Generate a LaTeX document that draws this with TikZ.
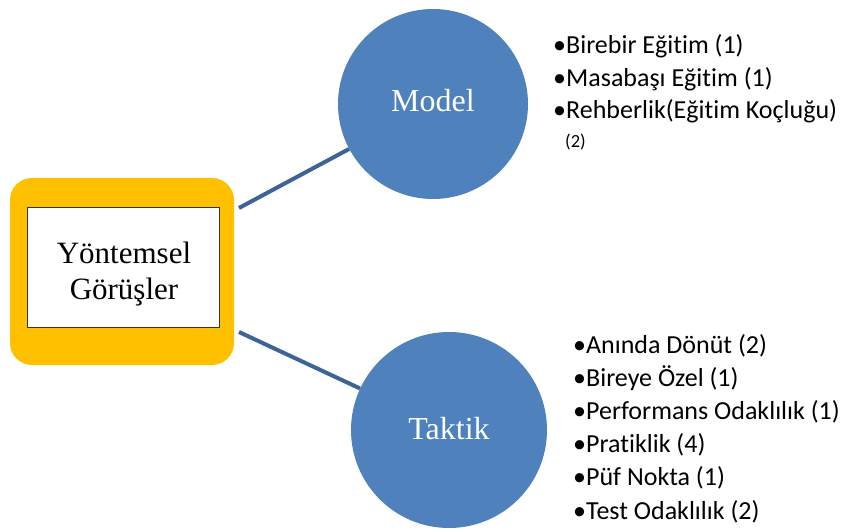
\documentclass[tikz,border=0pt]{standalone}
\usepackage{fontspec}
\setmainfont{Liberation Serif}
\newfontfamily\listfont[Ligatures=NoCommon]{Carlito}
\definecolor{goldbox}{HTML}{FFC000}
\definecolor{circblue}{HTML}{4F81BD}
\definecolor{linkblue}{HTML}{3C6496}
\begin{document}
\begin{tikzpicture}[x=1pt,y=-1pt,
  circ/.style={circle,fill=circblue,draw=none,inner sep=0pt},
  circtext/.style={anchor=base,inner sep=0pt,text=white,font=\fontsize{32}{36}\selectfont},
  boxtext/.style={anchor=base,inner sep=0pt,font=\fontsize{31}{36}\selectfont},
  link/.style={draw=linkblue,line width=4pt},
  item/.style={anchor=base west,inner sep=0pt,font=\listfont\fontsize{26}{30}\selectfont},
  smallitem/.style={anchor=base west,inner sep=0pt,font=\listfont\fontsize{18.5}{22}\selectfont}]
\useasboundingbox (0,0) rectangle (844,532);
\node[fill=goldbox,rounded corners=22pt,minimum width=224pt,minimum height=187pt,inner sep=0pt] (outer) at (122,271.5) {};
\node[fill=white,draw=black!80,line width=0.8pt,minimum width=192pt,minimum height=120pt,inner sep=0pt] (inner) at (123,267.5) {};
\node[boxtext] (yt1) at (124,263) {Yöntemsel};
\node[boxtext] (yt2) at (124,299) {Görüşler};
\node[circ,minimum size=190pt] (model) at (433,104) {};
\node[circ,minimum size=196pt] (taktik) at (449,430) {};
\node[circtext] (modeltxt) at (433,112) {Model};
\node[circtext] (taktiktxt) at (449,439) {Taktik};
\coordinate (a1) at (239,208);
\coordinate (b1) at (239,332);
\draw[link] (a1) -- (model);
\draw[link] (b1) -- (taktik);
\node[item] (m1) at (553,54) {•Birebir Eğitim (1)};
\node[item] (m2) at (553,87) {•Masabaşı Eğitim (1)};
\node[item] (m3) at (553,119) {•Rehberlik(Eğitim Koçluğu)};
\node[smallitem] (m4) at (565,148) {(2)};
\node[item] (t1) at (573,353) {•Anında Dönüt (2)};
\node[item] (t2) at (573,386) {•Bireye Özel (1)};
\node[item] (t3) at (573,419) {•Performans Odaklılık (1)};
\node[item] (t4) at (573,452) {•Pratiklik (4)};
\node[item] (t5) at (573,485) {•Püf Nokta (1)};
\node[item] (t6) at (573,519) {•Test Odaklılık (2)};
\end{tikzpicture}
\end{document}
